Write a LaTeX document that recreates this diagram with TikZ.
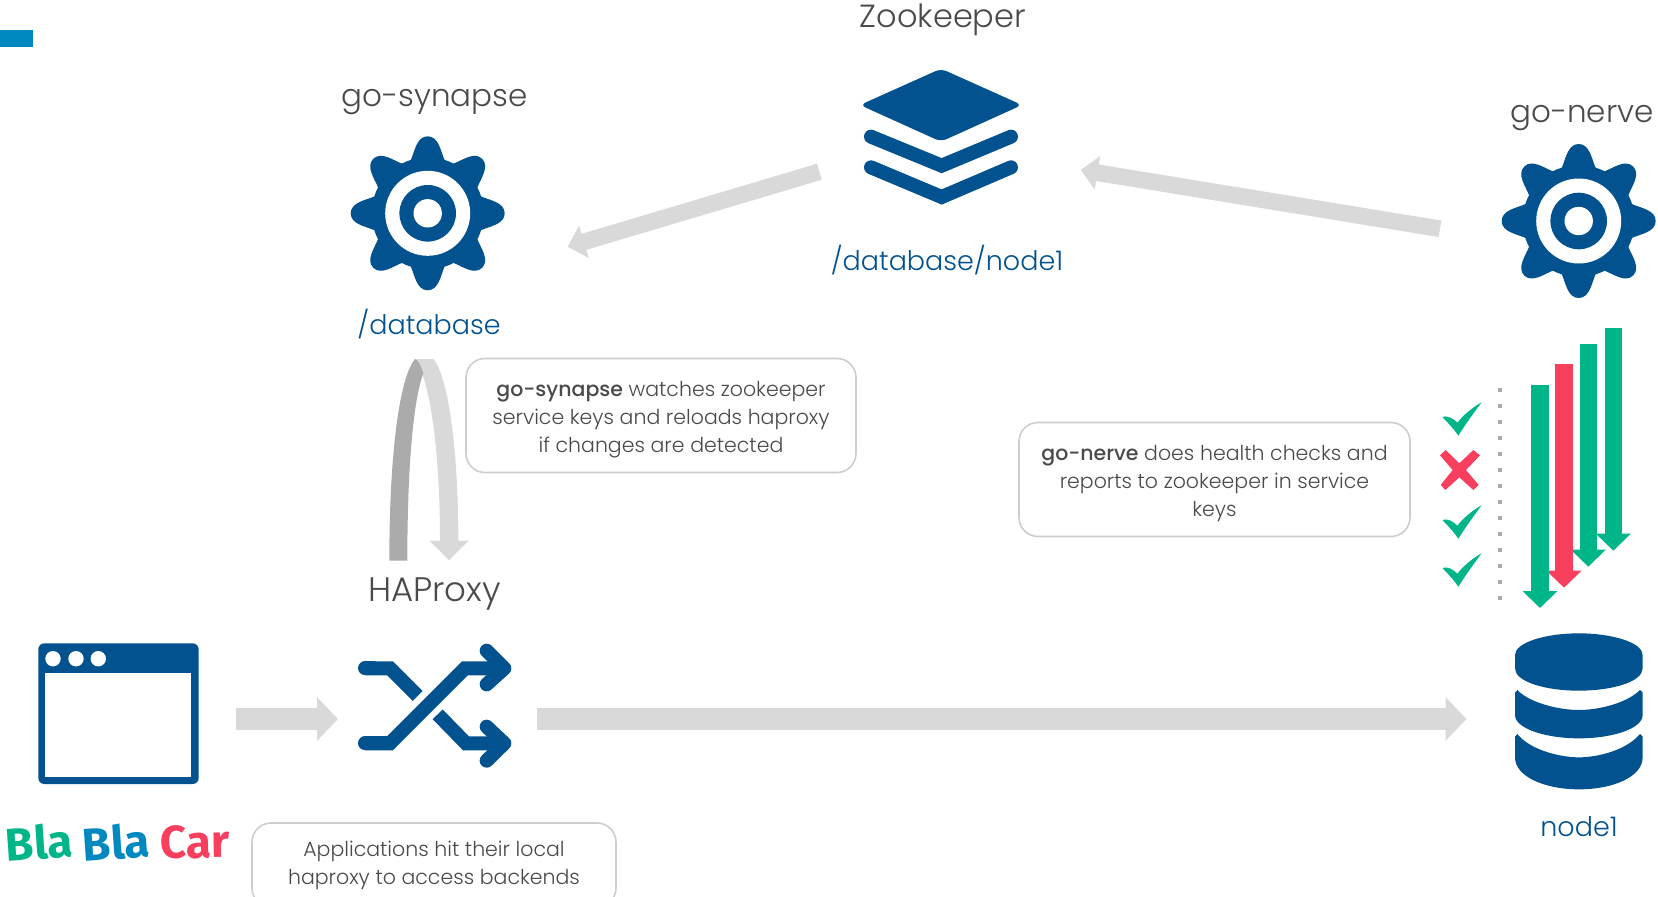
\documentclass[tikz,border=0pt]{standalone}
\usepackage{fontspec}
\setmainfont{Poppins}[UprightFont=* Light,BoldFont=* Medium]
\newfontfamily\logofont{Fira Sans}[UprightFont=* Bold]
\usetikzlibrary{arrows.meta}
\definecolor{iconblue}{HTML}{02528F}
\definecolor{lightarrow}{HTML}{D9D9D9}
\definecolor{darkarrow}{HTML}{ABABAB}
\definecolor{okgreen}{HTML}{00B688}
\definecolor{badred}{HTML}{F93F5E}
\definecolor{bbblue}{HTML}{0088C0}
\definecolor{labelgray}{HTML}{4A4A4A}
\definecolor{boxline}{HTML}{CDCDCD}
\tikzset{
  title/.style={text=labelgray,font=\fontsize{31}{36}\selectfont,inner sep=0pt},
  bluelabel/.style={text=iconblue,font=\fontsize{27}{32}\selectfont,inner sep=0pt},
  notebox/.style={draw=boxline,line width=1.6pt,rounded corners=19pt,fill=white,text=labelgray,
    align=center,font=\fontsize{20.5}{28}\selectfont,inner sep=0pt},
  wideblock/.style={draw=lightarrow,line width=21.5pt,-{Triangle[length=21pt,width=42.5pt]}},
  slantblock/.style={draw=lightarrow,line width=16.7pt,-{Triangle[length=17pt,width=33pt]}},
  healtharrow/.style={draw=#1,line width=17.5pt,-{Triangle[length=17pt,width=34pt]}},
  logo/.style={font=\logofont\fontsize{46}{48}\selectfont,inner sep=0pt},
  zoomed/.style={x=0.33333pt,y=-0.33333pt},
}
\newcommand{\geargly}[2]{%
  \begin{scope}[shift={(#1,#2)}]
    \fill[iconblue] (0,0) circle[radius=56];
    \foreach \a in {0,45,...,315}{
      \fill[iconblue,rotate=\a] (-17,-53) .. controls (-13,-62) and (-11,-77) .. (0,-77)
        .. controls (11,-77) and (13,-62) .. (17,-53) -- cycle;
    }
    \fill[white] (0,0) circle[radius=42.5];
    \fill[iconblue] (0,0) circle[radius=28.3];
    \fill[white] (0,0) circle[radius=14.2];
  \end{scope}}
\newcommand{\checkgly}[1]{%
  \fill[okgreen,shift={(1420,#1)},zoomed] (67,291) .. controls (80,285) and (100,295) .. (112,308)
    .. controls (130,285) and (160,260) .. (185,247) .. controls (160,280) and (135,315) .. (115,347)
    .. controls (100,325) and (85,310) .. (67,291) -- cycle;}
\begin{document}
\begin{tikzpicture}[x=1pt,y=-1pt]
\useasboundingbox (0,0) rectangle (1658,897);
\clip (0,0) rectangle (1658,897);
\fill[bbblue] (0,30) rectangle (33,47);

% named anchors for connectors
\coordinate (zkout) at (819.5,171.7);
\coordinate (synin) at (567.7,246.7);
\coordinate (nerveout) at (1440,228.8);
\coordinate (zkin) at (1080.7,170);
\coordinate (browserout) at (236,719);
\coordinate (haproxyin) at (338,719);
\coordinate (haproxyout) at (537,719);
\coordinate (nodein) at (1466.5,719);

\draw[slantblock] (zkout) -- (synin);
\draw[slantblock] (nerveout) -- (zkin);
\draw[wideblock] (browserout) -- (haproxyin);
\draw[wideblock] (haproxyout) -- (nodein);

% gears
\geargly{427.7}{213.3}
\geargly{1578.7}{221}

% stack
\begin{scope}[shift={(840,50)},zoomed]
  \fill[iconblue,rounded corners=6pt] (303,56) -- (546,165) -- (303,275) -- (60,165) -- cycle;
  \draw[iconblue,line width=14pt,line cap=round,miter limit=10] (93,260) -- (305,347) -- (513,260);
  \draw[iconblue,line width=14pt,line cap=round,miter limit=10] (93,352) -- (305,441) -- (513,352);
\end{scope}

% browser
\fill[iconblue,rounded corners=6pt] (38.3,643.3) rectangle (198.7,784);
\fill[white] (45.3,673.3) rectangle (191.3,776.7);
\foreach \x in {53,76,98.3} \fill[white] (\x,658.7) circle[radius=7.7];

% shuffle
\begin{scope}[shift={(340,620)},zoomed]
  \draw[iconblue,line width=14pt,line cap=round,line join=miter] (75,370) -- (150,370);
  \draw[iconblue,line width=14pt,line cap=butt,line join=miter] (75,370) -- (150,370) -- (375,145) -- (495,145);
  \draw[iconblue,line width=14pt,line cap=round] (75,145) -- (100,145);
  \draw[iconblue,line width=14pt,line cap=butt,line join=miter] (75,145) -- (150,145) -- (233,228);
  \draw[iconblue,line width=14pt,line cap=butt,line join=miter] (293,283) -- (378,370) -- (495,370);
  \draw[iconblue,line width=14pt,line cap=round,line join=round] (440,92) -- (493,145) -- (440,193);
  \draw[iconblue,line width=14pt,line cap=round,line join=round] (440,320) -- (493,370) -- (440,422);
\end{scope}

% database
\begin{scope}[shift={(1490,620)},zoomed]
  \fill[iconblue] (75,105) .. controls (75,68) and (165,40) .. (266.5,40) .. controls (368,40) and (458,68) .. (458,105)
    -- (458,145) .. controls (458,185) and (368,212) .. (266.5,212) .. controls (165,212) and (75,185) .. (75,145) -- cycle;
  \fill[iconblue] (75,218) -- (82,210) .. controls (120,250) and (210,270) .. (266.5,270)
    .. controls (325,270) and (410,250) .. (450,210) -- (458,218) -- (458,285)
    .. controls (458,325) and (370,355) .. (266.5,355) .. controls (165,355) and (75,325) .. (75,285) -- cycle;
  \fill[iconblue] (75,350) -- (82,342) .. controls (120,390) and (210,412) .. (266.5,412)
    .. controls (325,412) and (410,390) .. (450,342) -- (458,350) -- (458,412)
    .. controls (458,470) and (370,508) .. (266.5,508) .. controls (165,508) and (75,470) .. (75,412) -- cycle;
\end{scope}

% reload loop
\begin{scope}[shift={(370,350)},zoomed]
  \fill[lightarrow] (135,27) -- (190,27) .. controls (235,80) and (265,300) .. (265,572) -- (296,572) -- (237,630)
    -- (178,572) -- (210,572) .. controls (210,300) and (180,90) .. (135,27) -- cycle;
  \fill[darkarrow] (58,632) .. controls (58,300) and (90,80) .. (135,27) .. controls (147,30) and (155,55) .. (160,70)
    .. controls (130,150) and (112,350) .. (112,632) -- cycle;
\end{scope}

% health checks
\draw[darkarrow,line width=4pt,dash pattern=on 4pt off 12pt] (1500,387.7) -- (1500,600);
\coordinate (h4a) at (1613.3,327.7); \coordinate (h4b) at (1613.3,550.7);
\coordinate (h3a) at (1588.3,343.7); \coordinate (h3b) at (1588.3,566.7);
\coordinate (h2a) at (1564,364);     \coordinate (h2b) at (1564,587.7);
\coordinate (h1a) at (1540,385);     \coordinate (h1b) at (1540,608);
\draw[healtharrow=okgreen] (h4a) -- (h4b);
\draw[healtharrow=okgreen] (h3a) -- (h3b);
\draw[healtharrow=badred] (h2a) -- (h2b);
\draw[healtharrow=okgreen] (h1a) -- (h1b);
\checkgly{320}
\checkgly{423}
\checkgly{471}
\fill[badred,shift={(1420,320)},zoomed] (60,406) -- (77,390) -- (118,430) -- (160,390) -- (180,406) -- (138,450)
  -- (176,495) -- (160,510) -- (118,472) -- (76,510) -- (62,495) -- (98,450) -- cycle;

% labels
\node[title,font=\fontsize{32}{36}\selectfont] (zk) at (943,20) {Zookeeper};
\node[title] (syn) at (434.6,102) {go-synapse};
\node[title] (nerve) at (1582,118) {go-nerve};
\node[title,font=\fontsize{34}{38}\selectfont] (hap) at (434.6,594) {HAProxy};
\node[bluelabel] (lzk) at (947,260) {/database/node1};
\node[bluelabel] (ldb) at (429,324) {/database};
\node[bluelabel] (lnode) at (1579,827) {node1};

% notes
\node[notebox,minimum width=390pt,minimum height=114pt] (n1) at (661,415.5)
  {\rule{0pt}{24pt}\textbf{go-synapse} watches zookeeper\\service keys and reloads haproxy\\if changes are detected};
\node[notebox,minimum width=391pt,minimum height=114pt] (n2) at (1214.5,479.5)
  {\rule{0pt}{24pt}\textbf{go-nerve} does health checks and\\reports to zookeeper in service\\keys};
\node[notebox,minimum width=364pt,minimum height=84pt] (n3) at (434,865)
  {Applications hit their local\\haproxy to access backends};

% logo
\node[logo,text=okgreen,rotate=4] (b1) at (39,842) {Bla};
\node[logo,text=bbblue,rotate=4] (b2) at (116,842) {Bla};
\node[logo,text=badred,rotate=1] (b3) at (195,842) {Car};
\end{tikzpicture}
\end{document}
